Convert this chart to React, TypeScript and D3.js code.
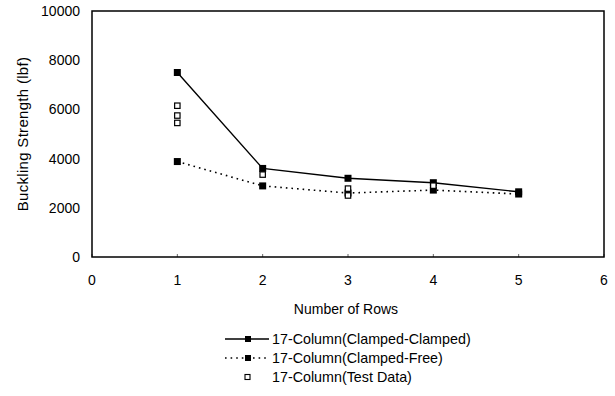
import React from "react";
import * as d3 from "d3";

const rows = [1, 2, 3, 4, 5];
const clampedClamped = [7500, 3600, 3200, 3020, 2650];
const clampedFree = [3880, 2890, 2600, 2720, 2560];
const testRows = [1, 1, 1, 2, 3, 3, 4];
const testValues = [6150, 5750, 5450, 3350, 2780, 2500, 2900];
const xTicks = [0, 1, 2, 3, 4, 5, 6];
const yTicks = [0, 2000, 4000, 6000, 8000, 10000];
const legendLabels = [
  "17-Column(Clamped-Clamped)",
  "17-Column(Clamped-Free)",
  "17-Column(Test Data)",
];

export default function App() {
  const width = 615;
  const height = 396;
  const margin = { top: 11, right: 11, bottom: 139, left: 92 };
  const innerW = width - margin.left - margin.right;
  const innerH = height - margin.top - margin.bottom;

  const x = d3.scaleLinear().domain([0, 6]).range([0, innerW]);
  const y = d3.scaleLinear().domain([0, 10000]).range([innerH, 0]);

  const line = d3
    .line<number>()
    .x((d, i) => x(rows[i]))
    .y((d) => y(d));

  const font = "Arial, 'Liberation Sans', sans-serif";
  const legendX = 225;
  const legendY = [339, 358, 377];

  return (
    <svg
      width={width}
      height={height}
      style={{ position: "absolute", left: 0, top: 0, background: "#fff" }}
      fontFamily={font}
    >
      <g transform={`translate(${margin.left},${margin.top})`}>
        <rect x={0} y={0} width={innerW} height={innerH} fill="none" stroke="#000" strokeWidth={1.5} />
        {xTicks.map((t) => (
          <g key={"x" + t}>
            <line x1={x(t)} x2={x(t)} y1={innerH} y2={innerH - 3} stroke="#000" strokeWidth={0.6} />
            <text x={x(t)} y={innerH + 28} textAnchor="middle" fontSize={14}>
              {t}
            </text>
          </g>
        ))}
        {yTicks.map((t) => (
          <text key={"y" + t} x={-12} y={y(t) + 5} textAnchor="end" fontSize={14}>
            {t}
          </text>
        ))}
        <path d={line(clampedClamped) || ""} fill="none" stroke="#000" strokeWidth={1.4} />
        <path
          d={line(clampedFree) || ""}
          fill="none"
          stroke="#000"
          strokeWidth={1.6}
          strokeDasharray="1.6,4"
        />
        {clampedClamped.map((v, i) => (
          <rect key={"cc" + i} x={x(rows[i]) - 3.5} y={y(v) - 3.5} width={7} height={7} fill="#000" />
        ))}
        {clampedFree.map((v, i) => (
          <rect key={"cf" + i} x={x(rows[i]) - 3.5} y={y(v) - 3.5} width={7} height={7} fill="#000" />
        ))}
        {testValues.map((v, i) => (
          <rect
            key={"t" + i}
            x={x(testRows[i]) - 2.7}
            y={y(v) - 2.7}
            width={5.4}
            height={5.4}
            fill="#fff"
            stroke="#000"
            strokeWidth={1.2}
          />
        ))}
      </g>
      <text
        transform={`translate(28,${margin.top + innerH / 2}) rotate(-90)`}
        textAnchor="middle"
        fontSize={15}
        letterSpacing={0.3}
      >
        Buckling Strength (lbf)
      </text>
      <text x={346} y={314} textAnchor="middle" fontSize={14}>
        Number of Rows
      </text>
      <g>
        <line x1={legendX} x2={legendX + 44} y1={legendY[0]} y2={legendY[0]} stroke="#000" strokeWidth={1.4} />
        <rect x={legendX + 20} y={legendY[0] - 3} width={6} height={6} fill="#000" />
        <line
          x1={legendX}
          x2={legendX + 44}
          y1={legendY[1]}
          y2={legendY[1]}
          stroke="#000"
          strokeWidth={1.6}
          strokeDasharray="1.6,4"
        />
        <rect x={legendX + 20} y={legendY[1] - 3} width={6} height={6} fill="#000" />
        <rect
          x={legendX + 20}
          y={legendY[2] - 2.5}
          width={5}
          height={5}
          fill="#fff"
          stroke="#000"
          strokeWidth={1.1}
        />
        {legendLabels.map((l, i) => (
          <text key={l} x={legendX + 47} y={legendY[i] + 5} fontSize={14.3}>
            {l}
          </text>
        ))}
      </g>
    </svg>
  );
}
